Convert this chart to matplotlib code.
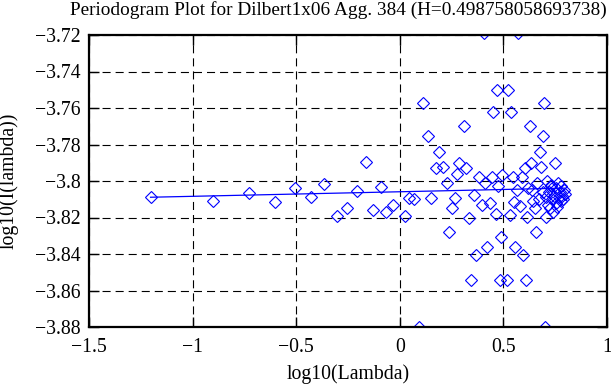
import numpy as np
import matplotlib.pyplot as plt

plt.rcParams['font.family'] = ['Liberation Serif', 'DejaVu Serif']
plt.rcParams['lines.scale_dashes'] = False

## ------------------- data
log_lambda = [
    -1.203, -0.902, -0.726, -0.601, -0.505, -0.428, -0.364, -0.303, -0.253, -0.208,
    -0.165, -0.128, -0.093, -0.066, -0.035,
    0.024, 0.045, 0.068, 0.091, 0.112, 0.135, 0.152, 0.176, 0.191, 0.208,
    0.228, 0.239, 0.252, 0.268, 0.276, 0.288,
    0.308, 0.319, 0.335, 0.345, 0.359, 0.369, 0.380, 0.396, 0.404, 0.412,
    0.423, 0.433, 0.444, 0.452, 0.463, 0.468, 0.475, 0.482, 0.490, 0.495,
    0.516, 0.524, 0.532, 0.537, 0.548, 0.553, 0.556, 0.565, 0.572, 0.580,
    0.588, 0.596, 0.604, 0.607, 0.615, 0.620, 0.628, 0.634, 0.639, 0.645,
    0.652, 0.659, 0.660, 0.670, 0.676, 0.681, 0.689, 0.690, 0.695, 0.700,
    0.704, 0.708, 0.712, 0.716, 0.721, 0.725, 0.729, 0.732, 0.736, 0.740,
    0.744, 0.748, 0.752, 0.756, 0.760, 0.764, 0.768, 0.772, 0.776, 0.780,
    0.784, 0.788, 0.792, 0.796,
]
log_I = [
    -3.8086, -3.8108, -3.8064, -3.8115, -3.8040, -3.8086, -3.8018, -3.8190, -3.8146, -3.8053,
    -3.7898, -3.8159, -3.8033, -3.8168, -3.8132,
    -3.8190, -3.8095, -3.8099, -3.8798, -3.7574, -3.7752, -3.8095, -3.7930, -3.7843, -3.7922,
    -3.8013, -3.8278, -3.8150, -3.8095, -3.7962, -3.7903,
    -3.7699, -3.7927, -3.8201, -3.8542, -3.8077, -3.8405, -3.7976, -3.8132, -3.7187, -3.8013,
    -3.8360, -3.8119, -3.7976, -3.7620, -3.8181, -3.7501, -3.8025, -3.8542, -3.8305, -3.7967,
    -3.8542, -3.7501, -3.8186, -3.7620, -3.7976, -3.8113, -3.8363, -3.8050, -3.7187, -3.8137,
    -3.7976, -3.8405, -3.7930, -3.8542, -3.8199, -3.8040, -3.7699, -3.7903, -3.8050, -3.8110,
    -3.8150, -3.8278, -3.8013, -3.8100, -3.7843, -3.7922, -3.7752, -3.8060, -3.7571, -3.8798,
    -3.8090, -3.8196, -3.8000, -3.8130, -3.8060, -3.8150, -3.8030, -3.8022, -3.8100, -3.8170,
    -3.8080, -3.7900, -3.8120, -3.8040, -3.8140, -3.8013, -3.8090, -3.8060, -3.8110, -3.8030,
    -3.8080, -3.8100, -3.8050, -3.8070,
]
fit_x = [-1.203, 0.798]
fit_y = [-3.8089, -3.8039]

title = 'Periodogram Plot for Dilbert1x06 Agg. 384 (H=0.498758058693738)'
xticks = [-1.5, -1, -0.5, 0, 0.5, 1]
xtick_labels = ['\u22121.5', '\u22121', '\u22120.5', '0', '0.5', '1']
yticks = [-3.88, -3.86, -3.84, -3.82, -3.80, -3.78, -3.76, -3.74, -3.72]
ytick_labels = ['\u22123.88', '\u22123.86', '\u22123.84', '\u22123.82', '\u22123.8',
                '\u22123.78', '\u22123.76', '\u22123.74', '\u22123.72']

fs = 14.2

## ------------------- plot
fig = plt.figure(figsize=(6.11, 3.85), dpi=100)
ax = fig.add_axes([89/611, 1-327/385, (607-89)/611, (327-35)/385])

ax.plot(log_lambda, log_I, linestyle='none', marker='D', markersize=6.2,
        markerfacecolor='none', markeredgecolor='blue', markeredgewidth=0.8)
ax.plot(fit_x, fit_y, color='blue', linewidth=0.9)

ax.set_xlim(-1.5, 1)
ax.set_ylim(-3.88, -3.72)
ax.set_xticks(xticks)
ax.set_xticklabels(xtick_labels)
ax.set_yticks(yticks)
ax.set_yticklabels(ytick_labels)
ax.tick_params(direction='in', length=7, width=1, top=True, right=True,
               labelsize=fs, colors='black')
ax.tick_params(axis='x', pad=8)
ax.tick_params(axis='y', pad=6)
ax.grid(True, color='black', linewidth=0.8, linestyle=(0, (5.8, 3.6)))
for s in ax.spines.values():
    s.set_linewidth(1.6)

ax.set_xlabel('log10(Lambda)', fontsize=fs)
ax.xaxis.set_label_coords(0.5, -0.127)
ax.set_ylabel('log10(I(lambda))', fontsize=fs)
ax.yaxis.set_label_coords(-0.136, 0.5)
fig.text(70/611, 1-1/385, title, fontsize=13.9, ha='left', va='top')

fig.savefig('out.png', dpi=100)
